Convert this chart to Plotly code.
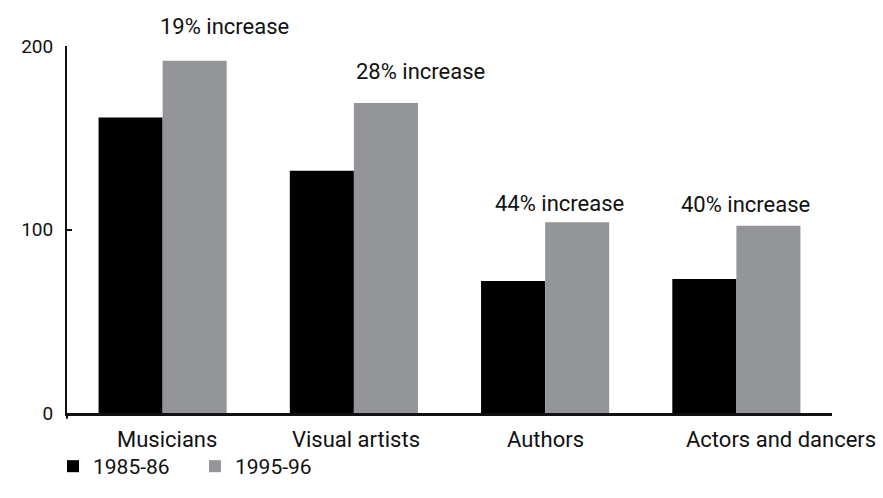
import plotly.graph_objects as go

categories = ["Musicians", "Visual artists", "Authors", "Actors and dancers"]
values_1985 = [161, 132, 72, 73]
values_1995 = [192, 169, 104, 102]
increase_labels = ["19% increase", "28% increase", "44% increase", "40% increase"]
y_ticks = [0, 100, 200]

# pixel offsets of each increase label from the top of its grey bar
label_dx = [62, 67, 14, 9]
label_dy = [34, 31, 19, 21]
# horizontal pixel offsets of the category names under the axis
cat_dx = [4, 2, 0, 45]

BLACK = "#000000"
GREY = "#939598"
INK = "#111111"
FONT = "Roboto"

fig = go.Figure()
fig.add_trace(go.Bar(x=categories, y=values_1985, name="1985-86",
                     marker=dict(color=BLACK, line=dict(width=0))))
fig.add_trace(go.Bar(x=categories, y=values_1995, name="1995-96",
                     marker=dict(color=GREY, line=dict(width=0))))

for cat, val, txt, dx, dy in zip(categories, values_1995, increase_labels,
                                 label_dx, label_dy):
    fig.add_annotation(x=cat, y=val, text=txt, showarrow=False,
                       xanchor="center", yanchor="middle",
                       xshift=dx, yshift=dy,
                       font=dict(family=FONT, size=22, color=INK))

# category names below the x axis
for cat, dx in zip(categories, cat_dx):
    fig.add_annotation(x=cat, y=0, yref="y", text=cat, showarrow=False,
                       xanchor="center", yanchor="middle",
                       xshift=dx, yshift=-26,
                       font=dict(family=FONT, size=22, color=INK))

# y axis runs a few pixels below the x axis
fig.add_shape(type="line", xref="paper", yref="paper", x0=0, x1=0,
              y0=0, y1=-0.016, line=dict(color=INK, width=2))

fig.update_layout(
    width=883, height=498,
    margin=dict(l=67, r=51, t=46, b=85, pad=0, autoexpand=False),
    paper_bgcolor="white", plot_bgcolor="white",
    barmode="group", bargap=0.33, bargroupgap=0,
    font=dict(family=FONT, size=20, color=INK),
    showlegend=True,
    legend=dict(orientation="h", x=0.06, y=0.022, xref="container", yref="container",
                xanchor="left", yanchor="bottom", bgcolor="rgba(0,0,0,0)",
                font=dict(family=FONT, size=21, color=INK),
                itemwidth=30, entrywidth=97, entrywidthmode="pixels",
                traceorder="normal"),
)
fig.update_xaxes(range=[-0.5, len(categories) - 0.5], autorange=False,
                 showline=True, linecolor=INK, linewidth=2.5,
                 ticks="", showgrid=False, zeroline=False, automargin=False,
                 showticklabels=False)
fig.update_yaxes(range=[0, 200], autorange=False, tickvals=y_ticks, showline=True,
                 linecolor=INK, linewidth=2, ticks="inside", ticklen=5,
                 tickwidth=2, tickcolor=INK, showgrid=False, zeroline=False,
                 automargin=False, ticklabelstandoff=8,
                 tickfont=dict(family=FONT, size=19, color=INK))

fig.write_html("out.html")
